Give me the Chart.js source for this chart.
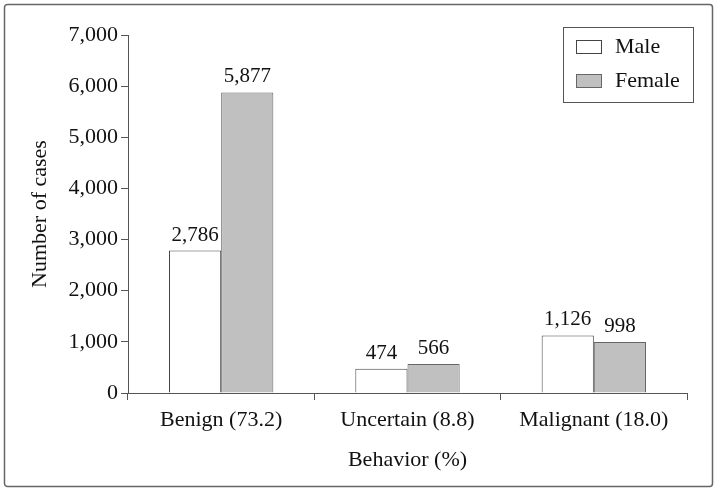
<!DOCTYPE html>
<html>
<head>
<meta charset="utf-8">
<script src="https://cdn.jsdelivr.net/npm/chart.js@4"></script>
<style>
  body { margin: 0; background: #fff; }
  canvas { display: block; }
</style>
</head>
<body>
<canvas id="grafico" width="718" height="492"></canvas>
<script>
// Datos del gráfico
const categorias = ['Benign (73.2)', 'Uncertain (8.8)', 'Malignant (18.0)'];
const series = ['Male', 'Female'];
const valoresMale = [2786, 474, 1126];
const valoresFemale = [5877, 566, 998];
const ticksY = [0, 1000, 2000, 3000, 4000, 5000, 6000, 7000];

const fuente = 'Liberation Serif';
const fmt = v => v.toLocaleString('en-US');

// Marco exterior redondeado
const marco = {
    id: 'marco',
    beforeDraw(chart) {
        const ctx = chart.ctx;
        ctx.save();
        ctx.fillStyle = '#fff';
        ctx.fillRect(0, 0, chart.width, chart.height);
        ctx.strokeStyle = '#666';
        ctx.lineWidth = 1.5;
        ctx.beginPath();
        ctx.roundRect(4.5, 4.5, 708, 482, 3);
        ctx.stroke();
        ctx.restore();
    }
};

// Etiquetas de valor sobre las barras
const etiquetas = {
    id: 'etiquetas',
    afterDatasetsDraw(chart) {
        const ctx = chart.ctx;
        ctx.save();
        ctx.font = '21px "' + fuente + '"';
        ctx.fillStyle = '#111';
        ctx.textAlign = 'center';
        ctx.textBaseline = 'alphabetic';
        chart.data.datasets.forEach((ds, i) => {
            chart.getDatasetMeta(i).data.forEach((bar, j) => {
                ctx.fillText(fmt(ds.data[j]), bar.x, bar.y - 10);
            });
        });
        ctx.restore();
    }
};

// Leyenda con recuadro
const leyenda = {
    id: 'leyenda',
    afterDraw(chart) {
        const ctx = chart.ctx;
        ctx.save();
        ctx.strokeStyle = '#555';
        ctx.lineWidth = 1;
        ctx.strokeRect(563.5, 27.5, 130, 75);
        ctx.font = '22px "' + fuente + '"';
        ctx.textBaseline = 'middle';
        ctx.textAlign = 'left';
        chart.data.datasets.forEach((ds, i) => {
            const y = 40.5 + i * 34;
            ctx.fillStyle = ds.backgroundColor;
            ctx.fillRect(576.5, y, 25, 13);
            ctx.strokeStyle = ds.borderColor;
            ctx.strokeRect(576.5, y, 25, 13);
            ctx.fillStyle = '#111';
            ctx.fillText(ds.label, 615, y + 7);
        });
        ctx.restore();
    }
};

new Chart(document.getElementById('grafico'), {
    type: 'bar',
    data: {
        labels: categorias,
        datasets: [{
            label: series[0],
            data: valoresMale,
            backgroundColor: '#ffffff',
            borderColor: '#444444',
            borderWidth: 1
        }, {
            label: series[1],
            data: valoresFemale,
            backgroundColor: '#c0c0c0',
            borderColor: '#666666',
            borderWidth: 1
        }]
    },
    options: {
        responsive: false,
        animation: false,
        devicePixelRatio: 1,
        categoryPercentage: 0.56,
        barPercentage: 1.0,
        layout: { padding: { top: 35, right: 31, left: 0, bottom: 0 } },
        plugins: {
            legend: { display: false },
            tooltip: { enabled: false }
        },
        scales: {
            x: {
                afterFit: s => { s.height = 99; },
                grid: { drawOnChartArea: false, color: '#555', tickLength: 7, offset: true },
                border: { color: '#555', width: 1 },
                ticks: { color: '#111', padding: 7, font: { family: fuente, size: 22 } },
                title: {
                    display: true, text: 'Behavior (%)', color: '#111',
                    font: { family: fuente, size: 22 }, padding: { bottom: 19 }
                }
            },
            y: {
                min: 0,
                max: 7000,
                afterFit: s => { s.width = 128; },
                afterBuildTicks: s => { s.ticks = ticksY.map(v => ({ value: v })); },
                grid: { drawOnChartArea: false, color: '#555', tickLength: 7 },
                border: { color: '#555', width: 1 },
                ticks: {
                    color: '#111', padding: 3,
                    font: { family: fuente, size: 22 },
                    callback: v => fmt(v)
                },
                title: {
                    display: true, text: 'Number of cases', color: '#111',
                    font: { family: fuente, size: 22 }, padding: { top: 27 }
                }
            }
        }
    },
    plugins: [marco, etiquetas, leyenda]
});
</script>
</body>
</html>
